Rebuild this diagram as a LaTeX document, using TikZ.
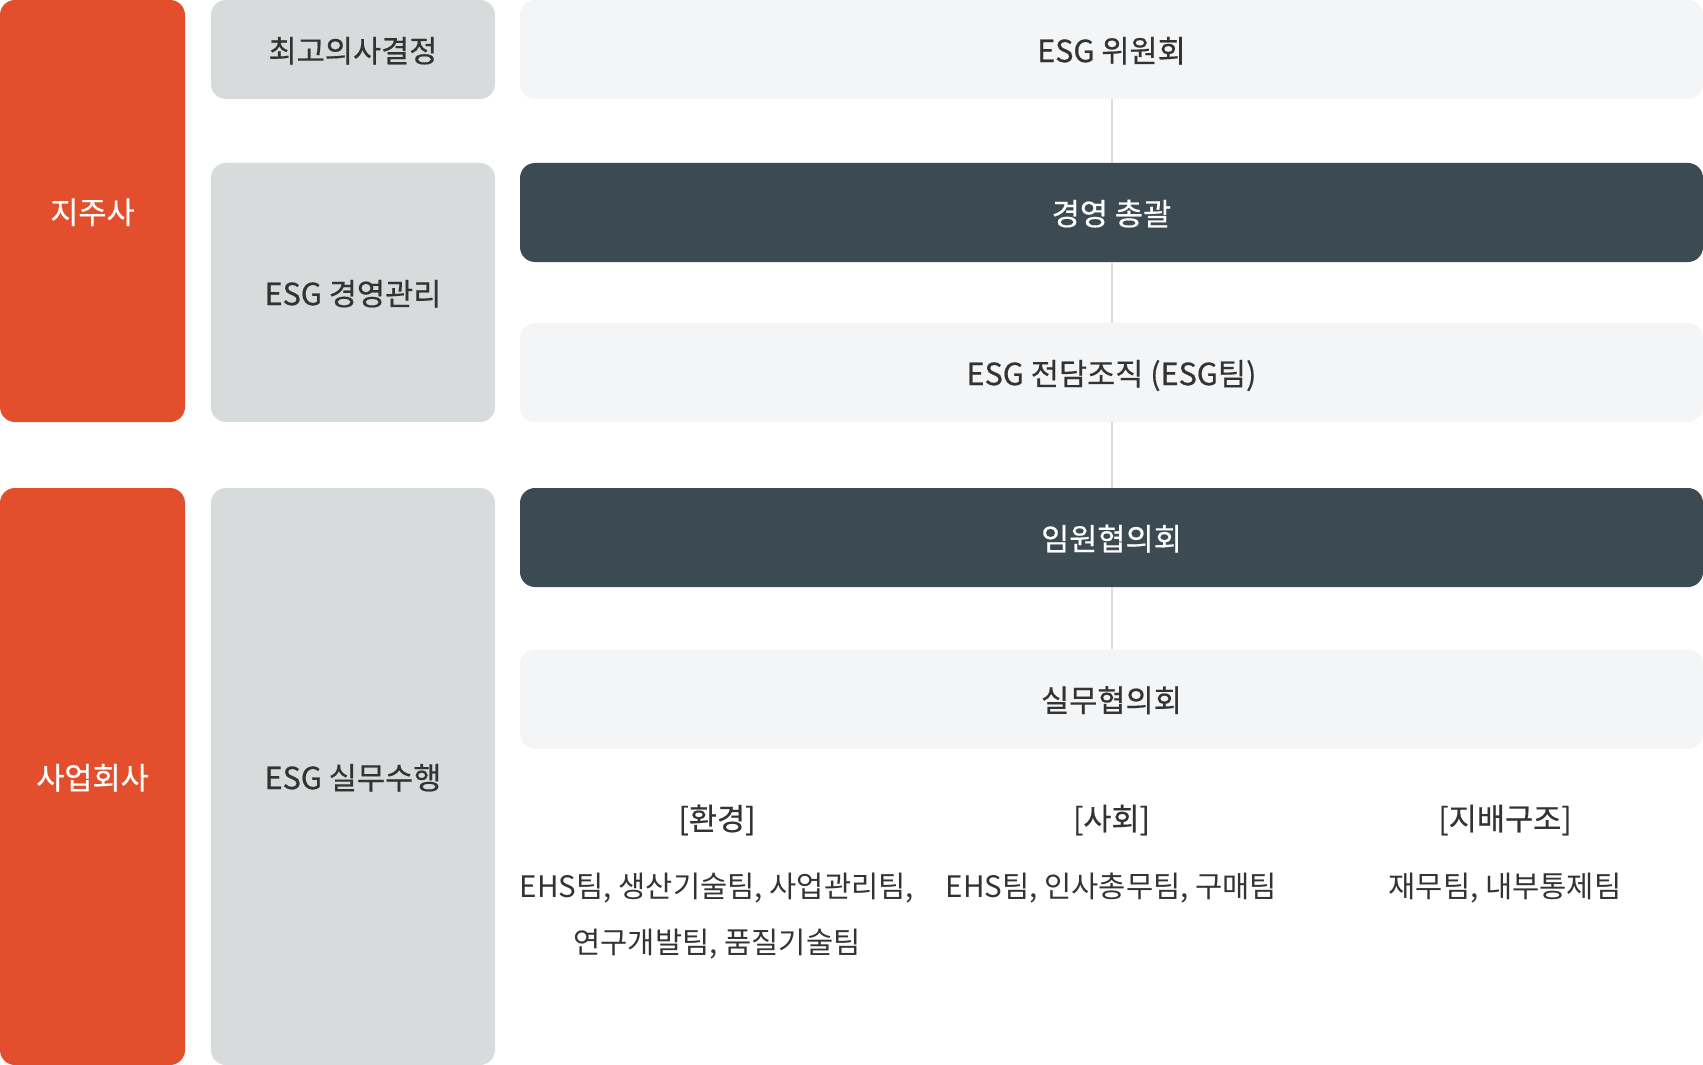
\documentclass[tikz,border=0pt]{standalone}
\usepackage{fontspec}
\setmainfont{Noto Sans CJK KR}
\newfontfamily\medfont{Noto Sans CJK KR}[FakeBold=0.5]
\definecolor{esgred}{HTML}{E34F2C}
\definecolor{esggray}{HTML}{D8DBDC}
\definecolor{esglight}{HTML}{F4F5F6}
\definecolor{esgdark}{HTML}{3C4A52}
\definecolor{esgtext}{HTML}{333333}
\definecolor{esgline}{HTML}{DCDCDC}
\tikzset{
  box/.style={rectangle, rounded corners=7.5pt, inner sep=0pt, text depth=0pt, font=\medfont\fontsize{15.3}{19}\selectfont},
  redbox/.style={box, fill=esgred, text=white, minimum width=92.5pt},
  graybox/.style={box, fill=esggray, text=esgtext, minimum width=142pt},
  lightbox/.style={box, fill=esglight, text=esgtext, minimum width=591.5pt, minimum height=49.5pt},
  darkbox/.style={box, fill=esgdark, text=white, minimum width=591.5pt, minimum height=49.5pt},
  heading/.style={text=esgtext, font=\medfont\fontsize{15.3}{19}\selectfont},
  teams/.style={text=esgtext, align=center, font=\fontsize{14.8}{28}\selectfont},
  link/.style={draw=esgline, line width=1pt}
}
\begin{document}
\begin{tikzpicture}[x=0.5pt, y=-0.5pt]
    \useasboundingbox (0,0) rectangle (1703,1065);

    \node[redbox, minimum height=211pt] (jijusa) at (92.5,211) {지주사};
    \node[redbox, minimum height=288.5pt] (saeop) at (92.5,776.5) {사업회사};

    \node[graybox, minimum height=49.5pt] (decide) at (353,49.5) {최고의사결정};
    \node[graybox, minimum height=129.5pt] (manage) at (353,292.5) {ESG 경영관리};
    \node[graybox, minimum height=288.5pt] (execute) at (353,776.5) {ESG 실무수행};

    \node[lightbox] (committee) at (1111.5,49.5) {ESG 위원회};
    \node[darkbox] (chief) at (1111.5,212.5) {경영 총괄};
    \node[lightbox] (esgteam) at (1111.5,372.5) {ESG 전담조직 (ESG팀)};
    \node[darkbox] (board) at (1111.5,537.5) {임원협의회};
    \node[lightbox] (working) at (1111.5,699) {실무협의회};

    \node[heading] (env) at (717,820) {[환경]};
    \node[heading] (soc) at (1111.5,820) {[사회]};
    \node[heading] (gov) at (1505,820) {[지배구조]};

    \node[teams, anchor=north] (envteams) at (717,866) {EHS팀, 생산기술팀, 사업관리팀,\\연구개발팀, 품질기술팀};
    \node[teams, anchor=north] (socteams) at (1111.5,866) {EHS팀, 인사총무팀, 구매팀};
    \node[teams, anchor=north] (govteams) at (1505,866) {재무팀, 내부통제팀};

    \draw[link] (committee) -- (chief);
    \draw[link] (chief) -- (esgteam);
    \draw[link] (esgteam) -- (board);
    \draw[link] (board) -- (working);
\end{tikzpicture}
\end{document}
